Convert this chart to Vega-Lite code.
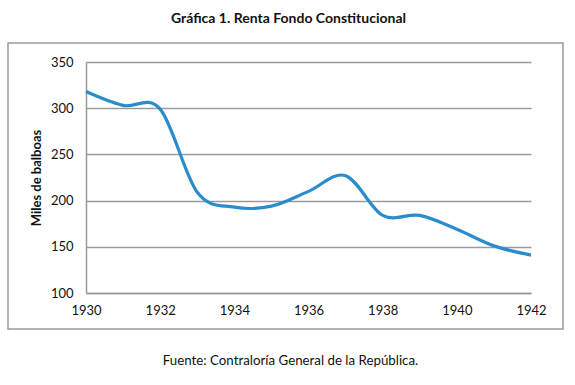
{
  "$schema": "https://vega.github.io/schema/vega-lite/v6.json",
  "autosize": "none",
  "width": 555,
  "height": 286,
  "padding": {"left": 8, "top": 43, "right": 12, "bottom": 56},
  "background": "white",
  "title": {
    "text": "Gráfica 1. Renta Fondo Constitucional",
    "font": "Lato",
    "fontSize": 14,
    "fontWeight": "bold",
    "color": "#111111",
    "anchor": "middle",
    "baseline": "alphabetic",
    "offset": 6,
    "dx": 3
  },
  "config": {
    "view": {"stroke": "#9a9a9a", "strokeWidth": 1.5},
    "font": "Lato"
  },
  "data": {
    "values": [
      {"year": 1930, "value": 318},
      {"year": 1931, "value": 303},
      {"year": 1932, "value": 299},
      {"year": 1933, "value": 209},
      {"year": 1934, "value": 193},
      {"year": 1935, "value": 194},
      {"year": 1936, "value": 210},
      {"year": 1937, "value": 227},
      {"year": 1938, "value": 184},
      {"year": 1939, "value": 184},
      {"year": 1940, "value": 169},
      {"year": 1941, "value": 151},
      {"year": 1942, "value": 141}
    ]
  },
  "mark": {"type": "line", "interpolate": "cardinal", "tension": 0, "color": "#2a8ccc", "strokeWidth": 3.2},
  "encoding": {
    "x": {
      "field": "year",
      "type": "quantitative",
      "scale": {"domain": [1930, 1942], "range": [78, 523], "nice": false, "zero": false},
      "axis": {
        "values": [1930, 1932, 1934, 1936, 1938, 1940, 1942],
        "format": "d",
        "offset": -36,
        "grid": false,
        "ticks": false,
        "tickSize": 0,
        "domain": true,
        "domainColor": "#9a9a9a",
        "domainWidth": 1.5,
        "labelFont": "Lato",
        "labelFontSize": 13,
        "labelColor": "#111111",
        "labelPadding": 11,
        "labelFlush": false,
        "labelOverlap": false,
        "title": "Fuente: Contraloría General de la República.",
        "titleFont": "Lato",
        "titleFontWeight": "normal",
        "titleFontSize": 13.3,
        "titleColor": "#111111",
        "titlePadding": 36,
        "titleX": 282
      }
    },
    "y": {
      "field": "value",
      "type": "quantitative",
      "scale": {"domain": [100, 350], "range": [250, 19], "nice": false, "zero": false},
      "axis": {
        "values": [100, 150, 200, 250, 300, 350],
        "offset": -78,
        "grid": true,
        "gridColor": "#9a9a9a",
        "gridWidth": 1.5,
        "ticks": false,
        "tickSize": 0,
        "domain": true,
        "domainColor": "#9a9a9a",
        "domainWidth": 1.5,
        "labelFont": "Lato",
        "labelFontSize": 13,
        "labelColor": "#111111",
        "labelPadding": 13,
        "labelFlush": false,
        "labelOverlap": false,
        "title": "Miles de balboas",
        "titleFont": "Lato",
        "titleFontWeight": "bold",
        "titleFontSize": 13,
        "titleColor": "#111111",
        "titlePadding": 7
      }
    }
  }
}
